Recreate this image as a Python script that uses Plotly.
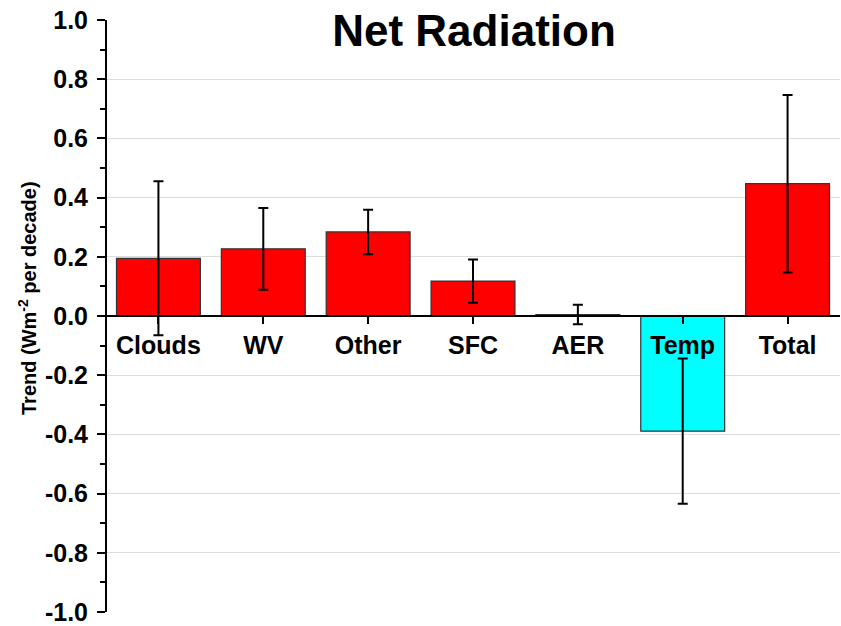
import plotly.graph_objects as go

categories = ["Clouds", "WV", "Other", "SFC", "AER", "Temp", "Total"]
trend = [0.195, 0.227, 0.284, 0.118, 0.005, -0.389, 0.447]
uncertainty = [0.26, 0.138, 0.075, 0.073, 0.033, 0.245, 0.30]
bar_colors = ["#ff0000", "#ff0000", "#ff0000", "#ff0000", "#ff0000", "#00ffff", "#ff0000"]
ytick_vals = [-1.0, -0.8, -0.6, -0.4, -0.2, 0.0, 0.2, 0.4, 0.6, 0.8, 1.0]
grid_vals = [-0.8, -0.6, -0.4, -0.2, 0.2, 0.4, 0.6, 0.8]
minor_vals = [-0.9, -0.7, -0.5, -0.3, -0.1, 0.1, 0.3, 0.5, 0.7, 0.9]

FONT = "Liberation Sans, Arial, sans-serif"
W, H = 841, 626
ML, MT, MB, MR = 106, 20, 14, 1
PW, PH = W - ML - MR, H - MT - MB

fig = go.Figure()
fig.add_trace(go.Bar(
    x=categories,
    y=trend,
    width=0.8,
    marker=dict(color=bar_colors, line=dict(color="#333333", width=1.2)),
    error_y=dict(type="data", array=uncertainty, visible=True,
                 color="black", thickness=2, width=5),
))
# invisible helper trace to carry the gridline axis
fig.add_trace(go.Scatter(x=[categories[0]], y=[0], yaxis="y2", mode="markers",
                         marker=dict(opacity=0), hoverinfo="skip"))

fig.update_layout(
    width=W, height=H,
    margin=dict(l=ML, r=MR, t=MT, b=MB),
    paper_bgcolor="white", plot_bgcolor="white",
    showlegend=False,
    title=dict(text="<b>Net Radiation</b>", x=474 / W, xanchor="center",
               y=1 - 31 / H, yanchor="middle", yref="container",
               font=dict(family=FONT, size=44, color="black")),
    xaxis=dict(
        range=[-0.5, 6.5], anchor="free", position=0.5, automargin=False,
        showline=True, linecolor="black", linewidth=2,
        ticks="outside", ticklen=7, tickwidth=2, tickcolor="black",
        tickfont=dict(family=FONT, size=25, color="black", weight="bold"),
        ticklabelstandoff=0,
        showgrid=False, zeroline=False,
    ),
    yaxis=dict(
        range=[-1.0, 1.0], anchor="free", position=0, automargin=False,
        tickvals=ytick_vals, ticktext=[f"{v:.1f}" for v in ytick_vals],
        showline=True, linecolor="black", linewidth=2,
        ticks="outside", ticklen=8, tickwidth=2, tickcolor="black",
        tickfont=dict(family=FONT, size=25, color="black", weight="bold"),
        ticklabelstandoff=4, ticklabeloverflow="allow",
        showgrid=False, zeroline=False,
        minor=dict(tickvals=minor_vals, ticks="outside", ticklen=5,
                   tickwidth=2, tickcolor="black", showgrid=False),
    ),
    yaxis2=dict(
        range=[-1.0, 1.0], overlaying="y", anchor="free", position=0,
        automargin=False, tickvals=grid_vals, showticklabels=False, ticks="",
        showgrid=True, gridcolor="#dddddd", gridwidth=1,
        zeroline=False, showline=False,
    ),
    annotations=[dict(
        text="<b>Trend (Wm<sup>-2</sup> per decade)</b>",
        xref="paper", yref="paper",
        x=(27 - 106) / PW, y=(612 - 298) / PH,
        xanchor="center", yanchor="middle", textangle=-90, showarrow=False,
        font=dict(family=FONT, size=20, color="black"),
    )],
)

fig.write_html("out.html",
               config={"displayModeBar": False},
               post_script="document.body.style.margin='0';document.body.style.padding='0';")
